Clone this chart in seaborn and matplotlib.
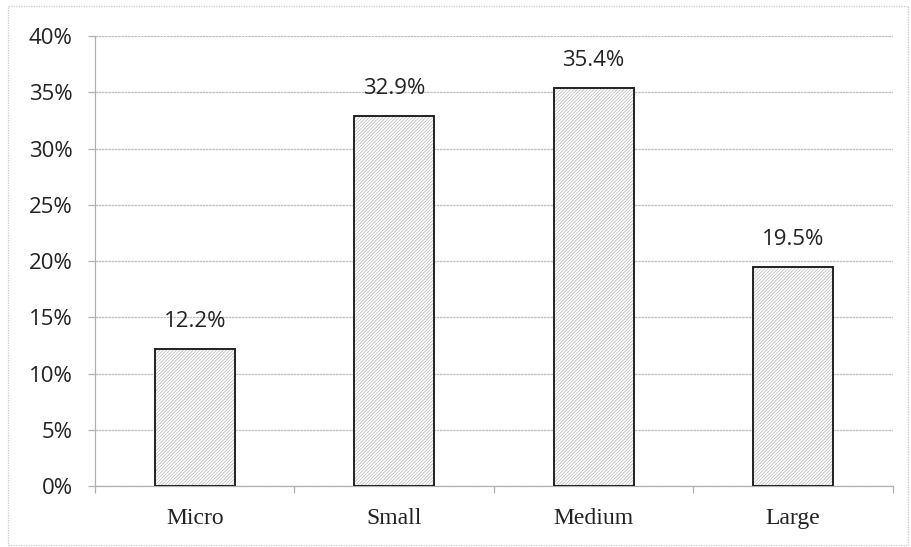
import matplotlib
matplotlib.use("Agg")
import matplotlib.pyplot as plt
from matplotlib.patches import Rectangle
from matplotlib.ticker import FixedLocator, PercentFormatter
import pandas as pd
import seaborn as sns

# Firm-size distribution
categories = ["Micro", "Small", "Medium", "Large"]
shares = [12.2, 32.9, 35.4, 19.5]
y_ticks = [0, 5, 10, 15, 20, 25, 30, 35, 40]

df = pd.DataFrame({"size": categories, "share": shares})

sns.set_theme(style="white")
plt.rcParams["hatch.linewidth"] = 0.5

fig = plt.figure(figsize=(9.11, 5.47), dpi=100)
ax = fig.add_axes([0.1043, 0.1115, 0.8757, 0.8225])

# hatched fill: edge colour of the fill patches drives the hatch colour
sns.barplot(data=df, x="size", y="share", order=categories, ax=ax,
            width=0.4, color="white", edgecolor="#b8b8b8", linewidth=0,
            saturation=1)
for bar in list(ax.patches):
    bar.set_hatch("//////////")
    bar.set_zorder(3)
    # crisp dark outline drawn on top of each hatched bar
    ax.add_patch(Rectangle(bar.get_xy(), bar.get_width(), bar.get_height(),
                           fill=False, edgecolor="#222222", linewidth=1.4,
                           zorder=4))

ax.set_ylim(0, 40)
ax.set_xlim(-0.5, len(categories) - 0.5)
ax.yaxis.set_major_locator(FixedLocator(y_ticks))
ax.yaxis.set_major_formatter(PercentFormatter(decimals=0))
ax.grid(axis="y", color="#bdbdbd", linewidth=0.9, linestyle=(0, (2, 0.6)))
ax.set_axisbelow(True)
ax.set_xlabel("")
ax.set_ylabel("")

for side in ("top", "right"):
    ax.spines[side].set_visible(False)
for side in ("left", "bottom"):
    ax.spines[side].set_color("#b0b0b0")
    ax.spines[side].set_linewidth(0.9)

# category boundary tick marks on the x axis
ax.xaxis.set_minor_locator(FixedLocator([i - 0.5 for i in range(len(categories) + 1)]))
ax.tick_params(axis="x", which="minor", bottom=True, length=5, width=0.9,
               color="#b0b0b0", direction="out")
ax.tick_params(axis="x", which="major", bottom=False, pad=10)
ax.tick_params(axis="y", which="major", left=True, length=5, width=0.9,
               color="#b0b0b0", pad=11)

for lbl in ax.get_xticklabels():
    lbl.set_fontfamily("Liberation Serif")
    lbl.set_fontsize(17)
    lbl.set_color("#222222")
for lbl in ax.get_yticklabels():
    lbl.set_fontfamily("Open Sans")
    lbl.set_fontsize(16)
    lbl.set_color("#222222")

container = ax.containers[0]
ax.bar_label(container, labels=[f"{v:.1f}%" for v in shares], padding=12,
             fontsize=16, fontfamily="Open Sans", color="#222222")

# light dotted frame around the whole chart
fig.patches.append(Rectangle((0.009, 0.004), 0.988, 0.985, transform=fig.transFigure,
                             fill=False, edgecolor="#c8c8c8", linewidth=0.9,
                             linestyle=(0, (1, 1))))

fig.savefig("out.png", dpi=100)
